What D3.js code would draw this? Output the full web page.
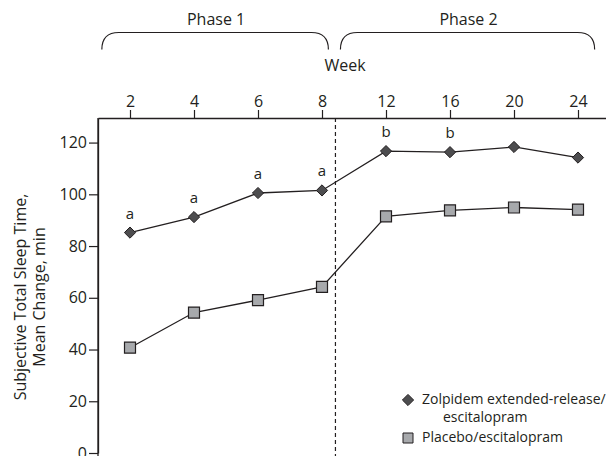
<!DOCTYPE html>
<html>
<head>
<meta charset="utf-8">
<script src="https://cdn.jsdelivr.net/npm/d3@7"></script>
<style>
  body { margin: 0; background: #fff; }
  svg text { font-family: "Open Sans", sans-serif; fill: #231f20; }
</style>
</head>
<body>
<div id="chart"></div>
<script>
// Weeks on the top axis
const weeks = ["2", "4", "6", "8", "12", "16", "20", "24"];

// Mean change in subjective total sleep time (min)
const zolpidem = [85.2, 91.2, 100.5, 101.5, 116.7, 116.3, 118.3, 114.2];
const placebo = [40.7, 54.3, 59.1, 64.2, 91.5, 93.8, 94.9, 94.1];

// Significance letters above the zolpidem points
const sigLetters = ["a", "a", "a", "a", "b", "b", "", ""];

const yTicks = [0, 20, 40, 60, 80, 100, 120];
const phases = ["Phase 1", "Phase 2"];
const legendLabels = [["Zolpidem extended-release/", "escitalopram"], ["Placebo/escitalopram"]];

const width = 606;
const height = 456;

const svg = d3
  .select("#chart")
  .append("svg")
  .attr("width", width)
  .attr("height", height);

const plotLeft = 98;
const plotTop = 118;
const plotBottom = 453;

const x = d3.scalePoint().domain(weeks).range([plotLeft, plotLeft + 64 * weeks.length]).padding(0.5);
const y = d3.scaleLinear().domain([0, 129.5]).range([plotBottom, plotTop]);
const step = x.step();

// Axes
const xAxis = svg
  .append("g")
  .attr("transform", `translate(0, ${plotTop})`)
  .call(d3.axisTop(x).tickSize(8).tickPadding(3).tickSizeOuter(0));
const yAxis = svg
  .append("g")
  .attr("transform", `translate(${plotLeft}, 0)`)
  .call(d3.axisLeft(y).tickValues(yTicks).tickSize(9).tickPadding(2).tickSizeOuter(0));

[xAxis, yAxis].forEach(ax => {
  ax.select(".domain").attr("stroke", "#231f20").attr("stroke-width", 1.3);
  ax.selectAll(".tick line").attr("stroke", "#231f20").attr("stroke-width", 1.2);
  ax.selectAll(".tick text").style("font-size", "16px").attr("fill", "#231f20");
});

// y axis line runs on to the bottom edge
svg.append("line")
  .attr("x1", plotLeft).attr("x2", plotLeft)
  .attr("y1", plotTop).attr("y2", height)
  .attr("stroke", "#231f20").attr("stroke-width", 1.3);

// Phase boundary
const breakX = x("8") + step * 0.21;
svg.append("line")
  .attr("x1", breakX).attr("x2", breakX)
  .attr("y1", plotTop).attr("y2", height)
  .attr("stroke", "#231f20")
  .attr("stroke-width", 1.2)
  .attr("stroke-dasharray", "4,3");

// Week label
svg.append("text")
  .attr("x", 345).attr("y", 71)
  .attr("text-anchor", "middle")
  .style("font-size", "16px")
  .text("Week");

// Phase brackets
const brackets = [
  [x("2") - step * 0.44, x("8") + step * 0.1],
  [breakX + 5, x("24") + step * 0.26]
];
const r = 17;
const bTop = 32.5;
const bBot = 49.5;
brackets.forEach(([x0, x1], i) => {
  const p = d3.path();
  p.moveTo(x0, bBot);
  p.quadraticCurveTo(x0, bTop, x0 + r, bTop);
  p.lineTo(x1 - r, bTop);
  p.quadraticCurveTo(x1, bTop, x1, bBot);
  svg.append("path")
    .attr("d", p.toString())
    .attr("fill", "none")
    .attr("stroke", "#231f20")
    .attr("stroke-width", 1.2);
  svg.append("text")
    .attr("x", (x0 + x1) / 2 + 1)
    .attr("y", 25)
    .attr("text-anchor", "middle")
    .style("font-size", "16px")
    .text(phases[i]);
});

// Y axis title
const yTitle = svg.append("text")
  .attr("transform", "translate(26, 297) rotate(-90)")
  .attr("text-anchor", "middle")
  .style("font-size", "16px");
yTitle.append("tspan").attr("x", 0).attr("dy", 0).text("Subjective Total Sleep Time,");
yTitle.append("tspan").attr("x", 0).attr("dy", 19).text("Mean Change, min");

// Lines
const line = d3.line().x((d, i) => x(weeks[i])).y(d => y(d));
[zolpidem, placebo].forEach(series => {
  svg.append("path")
    .attr("d", line(series))
    .attr("fill", "none")
    .attr("stroke", "#231f20")
    .attr("stroke-width", 1.3);
});

const diamond = d3.symbol().type(d3.symbolDiamond2).size(80);
const square = d3.symbol().type(d3.symbolSquare).size(121);

svg.selectAll(".zol")
  .data(zolpidem)
  .enter()
  .append("path")
  .attr("class", "zol")
  .attr("transform", (d, i) => `translate(${x(weeks[i])}, ${y(d)})`)
  .attr("d", diamond)
  .attr("fill", "#4d4d4f")
  .attr("stroke", "#231f20")
  .attr("stroke-width", 1);

svg.selectAll(".pla")
  .data(placebo)
  .enter()
  .append("path")
  .attr("class", "pla")
  .attr("transform", (d, i) => `translate(${x(weeks[i])}, ${y(d)})`)
  .attr("d", square)
  .attr("fill", "#a7a9ac")
  .attr("stroke", "#231f20")
  .attr("stroke-width", 1.2);

svg.selectAll(".sig")
  .data(zolpidem)
  .enter()
  .append("text")
  .attr("class", "sig")
  .attr("x", (d, i) => x(weeks[i]))
  .attr("y", d => y(d) - 14)
  .attr("text-anchor", "middle")
  .style("font-size", "15px")
  .text((d, i) => sigLetters[i]);

// Legend
const legend = svg.append("g").attr("transform", "translate(408, 400)");
legend.append("path").attr("d", diamond).attr("fill", "#4d4d4f").attr("stroke", "#231f20");
legend.append("text").attr("x", 14).attr("y", 4).style("font-size", "14px").text(legendLabels[0][0]);
legend.append("text").attr("x", 35).attr("y", 21.5).style("font-size", "14px").text(legendLabels[0][1]);
legend.append("path")
  .attr("transform", "translate(0, 38)")
  .attr("d", d3.symbol().type(d3.symbolSquare).size(100))
  .attr("fill", "#a7a9ac").attr("stroke", "#231f20");
legend.append("text").attr("x", 14).attr("y", 42).style("font-size", "14px").text(legendLabels[1][0]);
</script>
</body>
</html>
